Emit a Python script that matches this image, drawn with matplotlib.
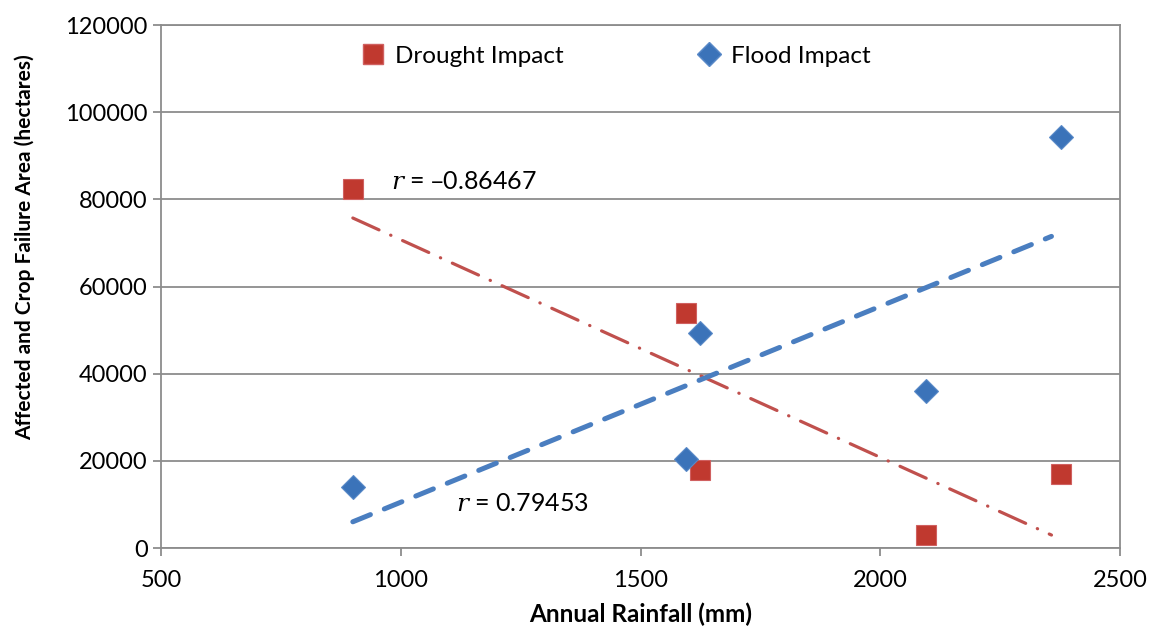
import numpy as np
import matplotlib.pyplot as plt
from matplotlib.lines import Line2D

# values
rain = [900, 1594, 1625, 2096, 2377]
drought = [82300, 54000, 18000, 3000, 17000]
rain_flood = [900, 1594, 1625, 2096, 2377]
flood = [14000, 20400, 49300, 36000, 94300]
r_drought = '\u20130.86467'
r_flood = '0.79453'

plt.rcParams['font.family'] = ['Lato', 'DejaVu Sans']
plt.rcParams['mathtext.fontset'] = 'dejavuserif'

red = '#C0392F'
red_line = '#C0504D'
blue = '#3B73B9'
blue_line = '#4A7EC0'
grid = '#8C8C8C'

fig = plt.figure(figsize=(11.51, 6.32), dpi=100)
ax = fig.add_axes([0.1399, 0.1329, 0.8332, 0.8275])

# linear trend lines fitted on the data
xr = np.array([min(rain), max(rain) - 20])
pd_ = np.polyfit(rain, drought, 1)
pf = np.polyfit(rain_flood, flood, 1)
ax.plot(xr, np.polyval(pd_, xr), color=red_line, lw=2.3,
        dashes=(9, 4, 0.1, 4), dash_capstyle='round', zorder=2)
ax.plot(xr, np.polyval(pf, xr), color=blue_line, lw=3.6,
        dashes=(3.8, 3), dash_capstyle='round', zorder=2)

ax.plot(rain, drought, ls='none', marker='s', ms=15, mfc=red,
        mec='#D06060', mew=0.8, zorder=3)
ax.plot(rain_flood, flood, ls='none', marker='D', ms=12, mfc=blue,
        mec='#5A8AC8', mew=0.8, zorder=4)

ax.text(979, 84200, r'$r$ = ' + r_drought, fontsize=18, va='center')
ax.text(1115, 10300, r'$r$ = ' + r_flood, fontsize=18, va='center')

ax.set_xlim(500, 2500)
ax.set_ylim(0, 120000)
ax.set_xticks(range(500, 2501, 500))
ax.set_yticks(range(0, 120001, 20000))
ax.yaxis.grid(True, color=grid, lw=1.3)
ax.set_axisbelow(True)
for s in ax.spines.values():
    s.set_color(grid)
    s.set_linewidth(1.3)
ax.tick_params(colors=grid, labelcolor='black', labelsize=17, length=6,
               width=1.3, direction='out')
ax.tick_params(axis='x', pad=10)

ax.set_xlabel('Annual Rainfall (mm)', fontsize=17.5, fontweight='bold', labelpad=8)
ax.set_ylabel('Affected and Crop Failure Area (hectares)', fontsize=15,
              fontweight='bold')
ax.yaxis.set_label_coords(-0.131, 0.575)

handles = [Line2D([], [], ls='none', marker='s', ms=15, mfc=red, mec='#D06060'),
           Line2D([], [], ls='none', marker='D', ms=12, mfc=blue, mec='#5A8AC8')]
ax.legend(handles, ['Drought Impact', 'Flood Impact'], loc='upper center',
          bbox_to_anchor=(0.473, 1.002), ncol=2, frameon=False, fontsize=17.5,
          columnspacing=5.4, handletextpad=0.3, handlelength=1.2)

fig.savefig('out.png', dpi=100)
